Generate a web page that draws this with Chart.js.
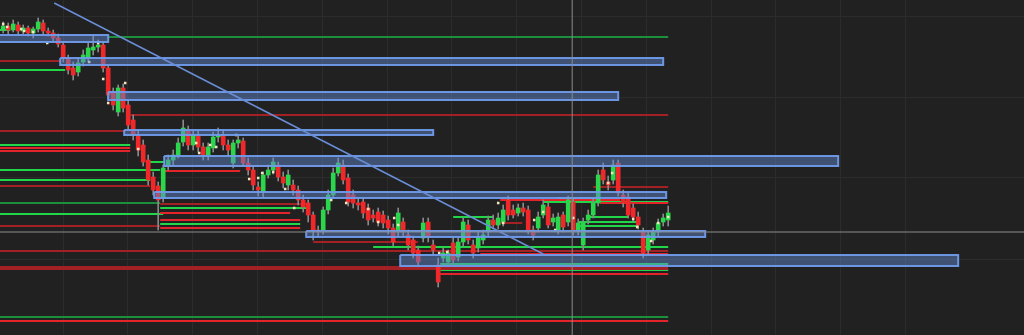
<!DOCTYPE html>
<html>
<head>
<meta charset="utf-8">
<script src="https://cdn.jsdelivr.net/npm/chart.js@4.4.1/dist/chart.umd.min.js"></script>
<style>
  html, body { margin: 0; padding: 0; background: #212121; overflow: hidden; }
</style>
</head>
<body>
<canvas id="chart" width="1024" height="335"></canvas>
<script>
// bar interval, minutes
const barMinutes = 5;

const open = [
  310, 314, 310, 315, 309, 312, 307, 311, 317, 309, 307, 302, 295, 282, 272, 268, 278, 282, 290, 293,
  295, 272, 248, 228, 252, 235, 220, 205, 195, 180, 163, 154, 142, 174, 180, 185, 198, 210, 195, 205,
  193, 185, 192, 203, 205, 195, 177, 197, 199, 177, 170, 153, 148, 165, 170, 175, 163, 155, 155, 150,
  140, 137, 125, 110, 110, 130, 145, 167, 175, 162, 145, 137, 138, 132, 125, 128, 125, 120, 112, 108,
  118, 105, 100, 90, 102, 118, 95, 75, 82, 78, 97, 83, 98, 115, 95, 92, 100, 108, 120, 115,
  118, 140, 130, 127, 132, 130, 110, 112, 125, 133, 118, 110, 125, 118, 138, 110, 95, 120, 125, 137,
  170, 158, 160, 177, 145, 143, 132, 123, 108, 90, 100, 108, 118, 120
];
const high = [
  318, 317, 320, 318, 315, 314, 313, 322, 320, 312, 310, 306, 298, 285, 278, 282, 290, 297, 305, 300,
  298, 275, 252, 255, 256, 240, 225, 210, 200, 185, 168, 158, 175, 185, 190, 202, 220, 214, 210, 210,
  197, 197, 208, 212, 210, 200, 200, 205, 202, 182, 174, 158, 168, 175, 182, 178, 168, 170, 160, 154,
  145, 140, 128, 114, 133, 150, 172, 182, 180, 166, 150, 142, 142, 136, 130, 132, 129, 124, 116, 132,
  122, 110, 104, 94, 122, 122, 100, 82, 92, 90, 102, 102, 122, 120, 100, 108, 110, 124, 125, 127,
  135, 144, 135, 136, 137, 134, 114, 128, 140, 137, 126, 127, 128, 144, 142, 121, 122, 130, 142, 170,
  177, 164, 180, 180, 150, 147, 136, 128, 112, 108, 112, 121, 126, 134
];
const low = [
  307, 306, 308, 305, 306, 304, 302, 308, 306, 304, 298, 293, 278, 266, 260, 264, 274, 278, 285, 288,
  268, 240, 230, 224, 228, 210, 200, 184, 174, 155, 145, 110, 138, 170, 175, 182, 194, 190, 190, 188,
  180, 180, 188, 198, 190, 184, 172, 192, 174, 165, 150, 144, 143, 162, 166, 159, 152, 150, 145, 135,
  128, 118, 100, 104, 106, 126, 142, 164, 156, 134, 132, 130, 122, 115, 118, 114, 112, 106, 94, 104,
  104, 90, 82, 74, 98, 98, 85, 53, 78, 74, 76, 79, 94, 96, 82, 88, 96, 104, 111, 111,
  114, 120, 122, 124, 124, 106, 100, 108, 122, 112, 114, 106, 108, 114, 105, 105, 90, 116, 122, 134,
  156, 150, 156, 144, 133, 122, 119, 111, 82, 86, 96, 104, 114, 114
];
const close = [
  314, 310, 316, 309, 312, 307, 311, 318, 309, 307, 302, 296, 282, 270, 265, 277, 285, 292, 293, 295,
  272, 245, 235, 252, 232, 215, 205, 190, 178, 160, 150, 140, 172, 180, 185, 197, 212, 195, 205, 193,
  185, 193, 203, 205, 195, 190, 197, 200, 177, 170, 155, 150, 165, 170, 178, 163, 157, 165, 150, 140,
  133, 125, 110, 108, 130, 145, 167, 177, 160, 138, 137, 135, 127, 120, 122, 118, 117, 112, 98, 127,
  108, 95, 87, 78, 117, 103, 90, 58, 87, 87, 80, 98, 118, 100, 87, 103, 105, 120, 115, 122,
  130, 125, 125, 132, 128, 110, 105, 123, 135, 115, 122, 123, 113, 140, 110, 117, 118, 125, 137, 165,
  160, 155, 175, 147, 137, 125, 123, 115, 87, 105, 108, 117, 122, 127
];
const candleTime = open.map((_, i) => (i + 1) * barMinutes);

// small marks printed on bars
const markerTime = [
  5, 9, 23, 26, 35, 49, 91, 100, 105, 110, 127, 140, 198, 201, 212, 218, 238, 251, 260, 264,
  275, 287, 296, 333, 348, 370, 380, 396, 400, 441, 449, 500, 505, 536, 545, 557, 575, 610, 614, 635,
  639, 653, 660, 670
];
const markerPrice = [
  316, 313, 311, 309, 308, 297, 278, 297, 261, 237, 257, 191, 197, 187, 195, 193, 205, 161, 162, 167,
  168, 151, 132, 140, 137, 131, 118, 122, 115, 87, 88, 137, 117, 120, 128, 110, 122, 157, 167, 121,
  113, 99, 117, 123
];

// zones: [from, to, bottom, top]
const zones = [
  [0, 110, 298, 305],
  [62, 665, 275, 282],
  [110, 620, 240, 248],
  [126, 435, 205, 210],
  [166, 840, 174, 184],
  [156, 668, 142, 148],
  [308, 707, 103, 109],
  [402, 960, 74, 85]
];

// levels: [from, to, price, kind]  R/r resistance, G/g support
const levels = [
  [110, 670, 303, 'g'],
  [132, 670, 225, 'r'],
  [0, 62, 279, 'r'],
  [0, 67, 270, 'G'],
  [0, 12, 310, 'G'],
  [0, 127, 209, 'r'],
  [0, 132, 195, 'G'],
  [0, 132, 192, 'R'],
  [0, 132, 189, 'R'],
  [149, 166, 178, 'G'],
  [0, 162, 170, 'G'],
  [166, 242, 169, 'R'],
  [166, 612, 174, 'r'],
  [0, 152, 160, 'G'],
  [0, 152, 154, 'r'],
  [595, 670, 153, 'r'],
  [502, 622, 140, 'R'],
  [559, 599, 142, 'G'],
  [0, 162, 137, 'g'],
  [162, 310, 136, 'r'],
  [162, 310, 132, 'G'],
  [162, 292, 127, 'R'],
  [0, 165, 126, 'G'],
  [162, 302, 120, 'R'],
  [162, 302, 116, 'G'],
  [0, 162, 114, 'r'],
  [162, 302, 112, 'R'],
  [545, 670, 138, 'G'],
  [602, 670, 137, 'R'],
  [589, 630, 123, 'G'],
  [455, 495, 123, 'G'],
  [494, 524, 117, 'r'],
  [580, 640, 118, 'G'],
  [580, 640, 114, 'G'],
  [315, 420, 98, 'r'],
  [375, 670, 93, 'G'],
  [0, 670, 89, 'r'],
  [482, 670, 86, 'R'],
  [442, 670, 76, 'G'],
  [0, 670, 73, 'r'],
  [0, 670, 71, 'r'],
  [442, 670, 70, 'G'],
  [442, 670, 66, 'R'],
  [0, 670, 23, 'g'],
  [0, 670, 19, 'R']
];

const trendline = [[56, 337], [545, 86]];
const crossTime = 574;
const crossPrice = 108;

const levelColors = { R: '#e3242b', r: '#a32024', G: '#22d64a', g: '#1b8f3c' };
const up = '#2bd54c';
const down = '#f0282a';
const gridColor = '#2c2c2c';

const datasets = [];

Object.keys(levelColors).forEach((kind) => {
  const pts = [];
  levels.filter((l) => l[3] === kind).forEach(([t0, t1, p]) => {
    pts.push({ x: t0, y: p }, { x: t1, y: p }, { x: t1, y: null });
  });
  datasets.push({
    type: 'line',
    data: pts,
    borderColor: levelColors[kind],
    borderWidth: 2,
    pointRadius: 0,
    spanGaps: false,
    order: 6,
  });
});

datasets.push({
  type: 'bar',
  data: candleTime.map((t, i) => ({ x: t, y: [low[i], high[i]] })),
  backgroundColor: '#8a8a8a',
  barThickness: 1,
  grouped: false,
  order: 5,
});

datasets.push({
  type: 'bar',
  data: candleTime.map((t, i) => ({ x: t, y: [open[i], close[i]] })),
  backgroundColor: close.map((c, i) => (c >= open[i] ? up : down)),
  barThickness: 4,
  grouped: false,
  order: 4,
});

datasets.push({
  type: 'line',
  data: markerTime.map((t, i) => ({ x: t, y: markerPrice[i] })),
  showLine: false,
  pointStyle: 'rect',
  pointRadius: 1.8,
  pointBackgroundColor: '#f2e4bc',
  pointBorderWidth: 0,
  order: 3,
});

zones.forEach(([t0, t1, lo, hi]) => {
  datasets.push({
    type: 'line',
    data: [
      { x: t0, y: hi }, { x: t1, y: hi }, { x: t1, y: lo }, { x: t0, y: lo }, { x: t0, y: hi }
    ],
    fill: 'shape',
    backgroundColor: 'rgba(96,135,205,0.48)',
    borderColor: 'rgba(112,155,235,0.95)',
    borderWidth: 2,
    pointRadius: 0,
    order: 2,
  });
});

datasets.push({
  type: 'line',
  data: trendline.map(([x, y]) => ({ x, y })),
  borderColor: '#6a8ed6',
  borderWidth: 1.5,
  pointRadius: 0,
  order: 1,
});

datasets.push({
  type: 'line',
  data: [{ x: crossTime, y: 0 }, { x: crossTime, y: 400 }],
  borderColor: '#8c8c8c',
  borderWidth: 1,
  pointRadius: 0,
  order: 0,
});
datasets.push({
  type: 'line',
  data: [{ x: -10, y: crossPrice }, { x: 1100, y: crossPrice }],
  borderColor: '#8c8c8c',
  borderWidth: 1,
  pointRadius: 0,
  order: 0,
});

const onStep = (step) => (ctx) => {
  const v = ctx.tick ? ctx.tick.value : 0;
  return Math.abs(v / step - Math.round(v / step)) < 1e-6 ? gridColor : 'transparent';
};

new Chart(document.getElementById('chart'), {
  type: 'line',
  data: { datasets },
  options: {
    responsive: false,
    animation: false,
    devicePixelRatio: 1,
    layout: { padding: 0, autoPadding: false },
    plugins: { legend: { display: false }, tooltip: { enabled: false } },
    scales: {
      x: {
        type: 'linear',
        min: 1.8,
        max: 1025.8,
        offset: false,
        ticks: { display: false, stepSize: 64.8 },
        grid: { color: onStep(64.8), drawTicks: false, offset: false },
        border: { display: false },
      },
      y: {
        type: 'linear',
        min: 5,
        max: 340,
        ticks: { display: false, stepSize: 81 },
        grid: { color: onStep(81), drawTicks: false },
        border: { display: false },
      },
    },
  },
});
</script>
</body>
</html>
